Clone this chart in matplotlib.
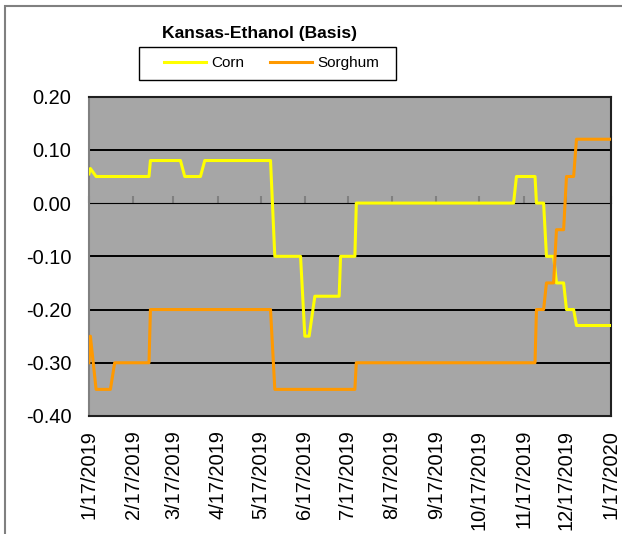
import datetime as dt

import matplotlib
matplotlib.use("Agg")
import matplotlib.pyplot as plt

plt.rcParams['font.family'] = ['Liberation Sans', 'DejaVu Sans']

# values (change points of the step-like series)
corn_dates = ['2019-01-17', '2019-01-18', '2019-01-22', '2019-02-28', '2019-03-01',
              '2019-03-22', '2019-03-25', '2019-04-05', '2019-04-08', '2019-05-24',
              '2019-05-27', '2019-06-14', '2019-06-17', '2019-06-20', '2019-06-24',
              '2019-07-11', '2019-07-12', '2019-07-22', '2019-07-23', '2019-11-10',
              '2019-11-12', '2019-11-25', '2019-11-26', '2019-12-01', '2019-12-03',
              '2019-12-08', '2019-12-10', '2019-12-15', '2019-12-17', '2019-12-22',
              '2019-12-24', '2020-01-17']
corn_vals = [0.055, 0.065, 0.05, 0.05, 0.08,
             0.08, 0.05, 0.05, 0.08, 0.08,
             -0.10, -0.10, -0.25, -0.25, -0.175,
             -0.175, -0.10, -0.10, 0.00, 0.00,
             0.05, 0.05, 0.00, 0.00, -0.10,
             -0.10, -0.15, -0.15, -0.20, -0.20,
             -0.23, -0.23]

sorghum_dates = ['2019-01-17', '2019-01-18', '2019-01-22', '2019-02-01', '2019-02-04',
                 '2019-02-28', '2019-03-01', '2019-05-24', '2019-05-27', '2019-07-22',
                 '2019-07-23', '2019-11-25', '2019-11-26', '2019-12-01', '2019-12-03',
                 '2019-12-08', '2019-12-10', '2019-12-15', '2019-12-17', '2019-12-22',
                 '2019-12-24', '2020-01-17']
sorghum_vals = [-0.30, -0.25, -0.35, -0.35, -0.30,
                -0.30, -0.20, -0.20, -0.35, -0.35,
                -0.30, -0.30, -0.20, -0.20, -0.15,
                -0.15, -0.05, -0.05, 0.05, 0.05,
                0.12, 0.12]

tick_dates = ['2019-01-17', '2019-02-17', '2019-03-17', '2019-04-17', '2019-05-17',
              '2019-06-17', '2019-07-17', '2019-08-17', '2019-09-17', '2019-10-17',
              '2019-11-17', '2019-12-17', '2020-01-17']
tick_labels = ['1/17/2019', '2/17/2019', '3/17/2019', '4/17/2019', '5/17/2019',
               '6/17/2019', '7/17/2019', '8/17/2019', '9/17/2019', '10/17/2019',
               '11/17/2019', '12/17/2019', '1/17/2020']
y_ticks = [0.20, 0.10, 0.00, -0.10, -0.20, -0.30, -0.40]


def to_dates(lst):
    return [dt.datetime.strptime(s, '%Y-%m-%d') for s in lst]


fig = plt.figure(figsize=(6.22, 5.34), dpi=100)
fig.patch.set_facecolor('white')
# chart area border (only left and top edges fall inside the image)
fig.add_artist(plt.Rectangle((0.008, -0.05), 1.1, 1.039, transform=fig.transFigure,
                             fill=False, edgecolor='#808080', linewidth=1.5))

ax = fig.add_axes([0.143, 0.221, 0.839, 0.598])
ax.set_facecolor('#A6A6A6')

for y in y_ticks:
    if y != 0:
        ax.axhline(y, color='black', linewidth=1.4, zorder=1)

ax.plot(to_dates(corn_dates), corn_vals, color='#FFFF00', linewidth=2.2,
        label='Corn', zorder=3)
ax.plot(to_dates(sorghum_dates), sorghum_vals, color='#FF9900', linewidth=2.2,
        label='Sorghum', zorder=3)

ax.set_ylim(-0.40, 0.20)
ax.set_xlim(to_dates(tick_dates)[0], to_dates(tick_dates)[-1])
ax.set_yticks(y_ticks)
ax.set_yticklabels(['%.2f' % v for v in y_ticks], fontsize=14.4)
ax.tick_params(axis='y', length=0, pad=12.5)

ax.set_xticks(to_dates(tick_dates))
ax.set_xticklabels(tick_labels, rotation=90, fontsize=14.4)
ax.tick_params(axis='x', length=0, pad=10)

for side in ['top', 'right', 'bottom']:
    ax.spines[side].set_color('#202020')
    ax.spines[side].set_linewidth(1.5)
ax.spines['left'].set_color('#808080')
ax.spines['left'].set_linewidth(1.5)

# category axis crosses at zero
zero_axis = ax.secondary_xaxis(2 / 3)
zero_axis.set_xticks(to_dates(tick_dates))
zero_axis.set_xticklabels([])
zero_axis.tick_params(axis='x', direction='out', length=5, width=1.5, color='#808080')
zero_axis.spines['bottom'].set_color('#808080')
zero_axis.spines['bottom'].set_linewidth(2)

fig.text(0.4164, 0.938, 'Kansas-Ethanol (Basis)', ha='center', va='center',
         fontsize=12.6, fontweight='bold')

# legend box drawn separately so its padding matches the original
fig.add_artist(plt.Rectangle((139 / 622, 1 - 80 / 534), 257 / 622, 33.3 / 534,
                             transform=fig.transFigure, fill=False,
                             edgecolor='black', linewidth=1))
fig.legend(loc='center', bbox_to_anchor=(271.5 / 622, 1 - 63.3 / 534), ncol=2,
           fontsize=11, frameon=False, handlelength=2.75, handletextpad=0.33,
           columnspacing=1.7, borderpad=0)

fig.savefig('out.png', dpi=100)
